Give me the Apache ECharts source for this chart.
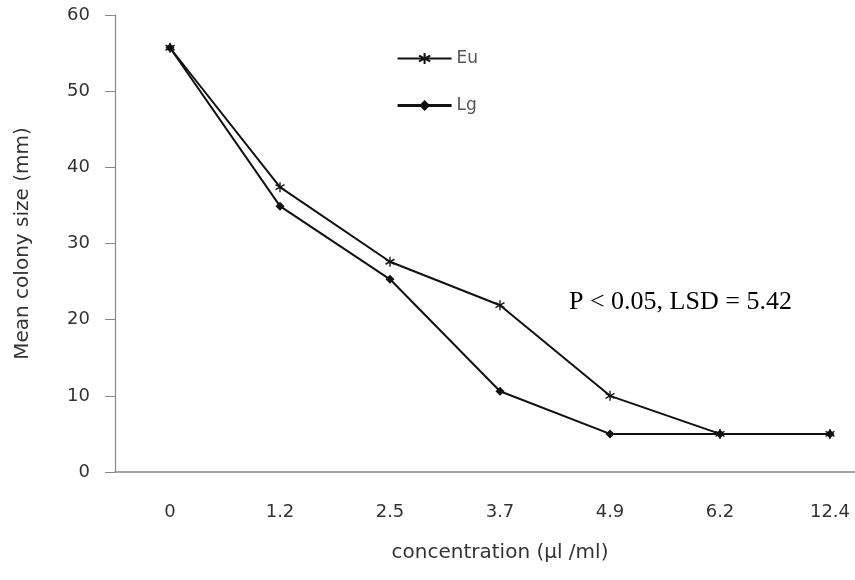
<!DOCTYPE html>
<html><head><meta charset="utf-8">
<script src="https://cdn.jsdelivr.net/npm/echarts@6/dist/echarts.min.js"></script>
<style>html,body{margin:0;padding:0;background:#fff}#c{width:855px;height:580px}</style>
</head><body><div id="c"></div>
<script>
const categories = ['0', '1.2', '2.5', '3.7', '4.9', '6.2', '12.4'];
const euValues = [55.7, 37.4, 27.6, 21.9, 10.0, 5.0, 5.0];
const lgValues = [55.7, 34.9, 25.3, 10.6, 5.0, 5.0, 5.0];
const yTicks = [0, 10, 20, 30, 40, 50, 60];
const seriesNames = ['Eu', 'Lg'];
const annotation = 'P < 0.05, LSD = 5.42';

const font = '"DejaVu Sans", sans-serif';
const starPath = 'path://M0,-5L0,5M-4.3,-2.5L4.3,2.5M-4.3,2.5L4.3,-2.5';
const chart = echarts.init(document.getElementById('c'));
chart.setOption({
  animation: false,
  backgroundColor: '#fff',
  grid: { left: 115, top: 15, width: 770, height: 457, outerBoundsMode: 'none' },
  legend: {
    orient: 'vertical', left: 391, top: 45, itemGap: 30, itemWidth: 54, itemHeight: 14,
    textStyle: { fontFamily: font, fontSize: 17, color: '#555', lineHeight: 14 },
    data: [
      { name: seriesNames[0], lineStyle: { width: 1.8 } },
      { name: seriesNames[1], lineStyle: { width: 3.2 } }
    ]
  },
  xAxis: {
    type: 'category', data: categories, boundaryGap: true,
    name: 'concentration (µl /ml)', nameLocation: 'middle', nameGap: 71,
    nameTextStyle: { fontFamily: font, fontSize: 20, color: '#333' },
    axisLine: { lineStyle: { color: '#888', width: 1.5 } },
    axisTick: { show: false },
    axisLabel: { fontFamily: font, fontSize: 18, color: '#333', margin: 31 }
  },
  yAxis: {
    type: 'value', min: 0, max: 60, interval: 10,
    name: 'Mean colony size (mm)', nameLocation: 'middle', nameGap: 82, nameRotate: 90,
    nameTextStyle: { fontFamily: font, fontSize: 20, color: '#333' },
    axisLine: { show: true, lineStyle: { color: '#888', width: 1.2 } },
    axisTick: { show: true, length: 10, lineStyle: { color: '#888' } },
    splitLine: { show: false },
    axisLabel: { fontFamily: font, fontSize: 18, color: '#333', margin: 25,
      formatter: v => yTicks.includes(v) ? String(v) : '' }
  },
  graphic: [{
    type: 'text', left: 569, top: 289,
    style: { text: annotation, font: '26px "Liberation Serif", "Times New Roman", serif', fill: '#000' }
  }],
  series: [
    { name: seriesNames[0], type: 'line', data: euValues, symbol: starPath, symbolSize: [9, 10],
      lineStyle: { color: '#111', width: 2 },
      itemStyle: { color: '#111', borderColor: '#111', borderWidth: 1.4 } },
    { name: seriesNames[1], type: 'line', data: lgValues, symbol: 'diamond', symbolSize: 9,
      lineStyle: { color: '#111', width: 2 },
      itemStyle: { color: '#111' } }
  ]
});
</script></body></html>
